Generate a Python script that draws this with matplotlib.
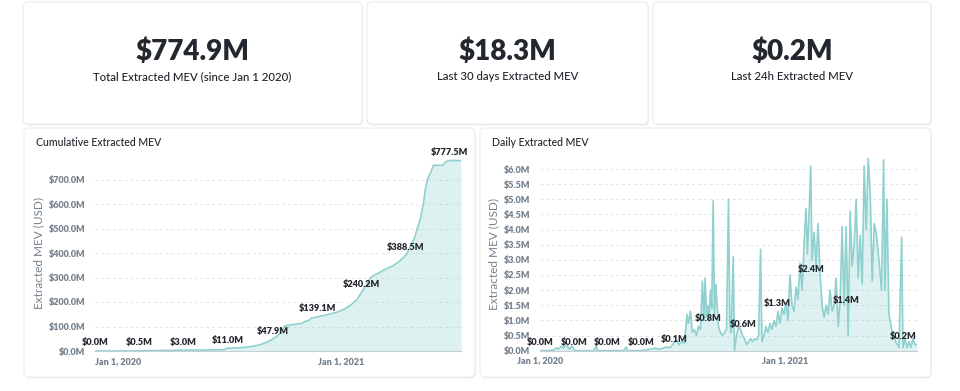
import pandas as pd
import matplotlib
matplotlib.use("Agg")
from matplotlib import pyplot as plt
from matplotlib.patches import FancyBboxPatch

plt.rcParams['font.family'] = ['Lato', 'DejaVu Sans']

# summary cards
card_values = ["$774.9M", "$18.3M", "$0.2M"]
card_labels = ["Total Extracted MEV (since Jan 1 2020)",
               "Last 30 days Extracted MEV",
               "Last 24h Extracted MEV"]

start = pd.Timestamp("2020-01-01")

# cumulative extracted MEV (days since Jan 1 2020, $M)
cum_days = [0, 20, 40, 66, 70, 100, 131, 160, 193, 195, 215, 232, 245, 255,
            264, 272, 278, 282, 290, 300, 308, 312, 318, 322, 331, 345, 360,
            372, 382, 390, 397, 403, 410, 415, 430, 445, 455, 462, 466, 470,
            475, 480, 485, 489, 492, 495, 500, 504, 518, 522, 528, 545]
cum_vals = [0.0, 0.0, 0.1, 0.5, 1.0, 2.0, 3.0, 4.0, 5.0, 11.0, 13.0, 18.0,
            25.0, 35.0, 47.9, 62.0, 80.0, 102.0, 106.0, 110.0, 113.0, 120.0,
            124.0, 134.0, 139.1, 148.0, 158.0, 172.0, 190.0, 210.0, 240.2,
            265.0, 298.0, 308.0, 330.0, 350.0, 370.0, 388.5, 405.0, 430.0,
            455.0, 500.0, 545.0, 600.0, 660.0, 700.0, 730.0, 758.0, 758.0,
            772.0, 777.5, 777.5]
cum_label_days = [0, 66, 131, 198, 264, 331, 397, 462, 528]
cum_label_vals = [0.0, 0.5, 3.0, 11.0, 47.9, 139.1, 240.2, 388.5, 777.5]

# daily extracted MEV (days since Jan 1 2020, $M)
daily_days = [0, 10, 20, 25, 28, 32, 35, 40, 44, 48, 52, 60, 80, 84, 86, 110,
              125, 129, 131, 150, 165, 172, 180, 188, 195, 200, 204, 208, 212,
              216, 220, 222, 225, 228, 231, 234, 237, 240, 243, 245, 247, 249,
              251, 253, 255, 257, 259, 261, 263, 265, 267, 270, 273, 276, 279,
              282, 284, 286, 289, 291, 294, 297, 300, 303, 306, 309, 312, 315,
              318, 321, 324, 327, 330, 332, 335, 338, 341, 344, 347, 350, 353,
              356, 359, 362, 365, 368, 371, 374, 377, 380, 383, 386, 389, 392,
              395, 398, 400, 403, 405, 407, 410, 413, 416, 419, 422, 425, 428,
              431, 434, 437, 440, 443, 446, 449, 452, 455, 458, 461, 464, 467,
              470, 473, 476, 479, 482, 485, 488, 491, 494, 497, 500, 503, 507,
              511, 514, 516, 519, 522, 527, 532, 537, 541, 543, 546, 549, 552,
              555, 558, 561, 564]
daily_vals = [0.0, 0.0, 0.02, 0.1, 0.05, 0.15, 0.1, 0.18, 0.05, 0.15, 0.0,
              0.0, 0.0, 0.15, 0.0, 0.0, 0.0, 0.12, 0.0, 0.0, 0.05, 0.08, 0.05,
              0.12, 0.1, 0.25, 0.35, 0.2, 0.3, 0.25, 1.2, 0.9, 1.3, 0.6, 0.7,
              0.5, 0.8, 0.7, 2.3, 1.0, 2.4, 1.1, 1.5, 1.0, 2.0, 1.4, 4.95, 1.2,
              2.2, 1.5, 0.8, 0.6, 0.5, 0.6, 0.7, 5.0, 0.9, 0.6, 3.1, 0.0, 0.5,
              0.8, 0.7, 0.5, 0.4, 0.2, 0.3, 0.4, 0.3, 0.4, 0.35, 0.5, 3.35, 0.3,
              0.5, 0.8, 0.6, 0.9, 0.7, 1.0, 0.8, 1.3, 0.9, 1.4, 1.2, 1.6, 1.0,
              2.5, 1.5, 1.3, 2.1, 1.7, 2.9, 2.0, 3.5, 4.7, 3.2, 4.8, 6.1, 3.0,
              3.9, 2.8, 4.2, 2.5, 1.5, 1.1, 1.5, 1.2, 2.0, 1.3, 1.5, 2.4, 0.8,
              1.6, 4.1, 1.5, 4.1, 0.5, 4.6, 2.8, 3.5, 5.0, 2.4, 3.8, 2.2, 6.1,
              4.0, 6.35, 5.2, 2.3, 4.2, 3.9, 3.0, 2.0, 6.3, 2.0, 5.0, 1.2, 0.6,
              0.3, 0.1, 3.75, 0.1, 0.4, 0.1, 0.3, 0.1, 0.4, 0.2, 0.2]
daily_label_days = [0, 51, 101, 151, 201, 252, 304, 355, 406, 458, 564]
daily_label_vals = [0.0, 0.0, 0.0, 0.0, 0.1, 0.8, 0.6, 1.3, 2.4, 1.4, 0.2]

LINE = '#8ed1cf'
TICK = '#75818e'
DARK = '#23272e'

W, H = 960, 391
fig = plt.figure(figsize=(9.6, 3.91), dpi=100)
fig.patch.set_facecolor('white')

bg = fig.add_axes([0, 0, 1, 1], zorder=-1)
bg.set_xlim(0, W)
bg.set_ylim(H, 0)
bg.axis('off')

def card(x0, y0, x1, y1):
    bg.add_patch(FancyBboxPatch((x0 + 1, y0 + 1.5), x1 - x0, y1 - y0,
                                boxstyle='round,pad=0,rounding_size=5',
                                fc='#eeeeee', ec='none'))
    bg.add_patch(FancyBboxPatch((x0, y0), x1 - x0, y1 - y0,
                                boxstyle='round,pad=0,rounding_size=5',
                                fc='white', ec='#ececec', lw=0.8))

top_cards = [(23, 2, 362), (367, 2, 648), (653, 2, 931)]
for (x0, y0, x1), val, lab in zip(top_cards, card_values, card_labels):
    card(x0, y0, x1, 124)
    cx = (x0 + x1) / 2
    bg.text(cx, 52, val, ha='center', va='center', fontsize=20,
            fontweight='heavy', color=DARK)
    bg.text(cx, 77, lab, ha='center', va='center', fontsize=8.2,
            fontweight='medium', color='#1f2329')

card(24, 128, 475, 377)
card(480, 128, 931, 377)
bg.text(36, 142, "Cumulative Extracted MEV", ha='left', va='center',
        fontsize=7.6, fontweight='medium', color=DARK)
bg.text(492, 142, "Daily Extracted MEV", ha='left', va='center',
        fontsize=7.6, fontweight='medium', color=DARK)


def style_axes(ax, ylabel, x_end):
    ax.set_facecolor('none')
    for s in ['top', 'right', 'left']:
        ax.spines[s].set_visible(False)
    ax.spines['bottom'].set_color('#c9ced4')
    ax.spines['bottom'].set_linewidth(0.8)
    ax.yaxis.grid(True, linestyle=(0, (3, 3)), color='#e4e4e4', lw=0.7)
    ax.set_axisbelow(True)
    ax.tick_params(axis='y', length=0, pad=7, labelsize=6.5, labelcolor=TICK)
    ax.tick_params(axis='x', length=0, pad=4, labelsize=6.5, labelcolor=TICK)
    for t in ax.get_yticklabels():
        t.set_fontweight('heavy')
    ax.set_ylabel(ylabel, fontsize=8.5, color=TICK, labelpad=3)
    ax.set_xlim(start, start + pd.Timedelta(days=x_end))
    ticks = [pd.Timestamp("2020-01-01"), pd.Timestamp("2021-01-01")]
    ax.set_xticks(ticks)
    ax.set_xticklabels(["Jan 1, 2020", "Jan 1, 2021"], fontweight='heavy')


def add_labels(ax, days, vals, last_right=False):
    for i, (d, v) in enumerate(zip(days, vals)):
        ha = 'center'
        if last_right and i == len(days) - 1:
            ha = 'right'
        ax.annotate(f"${v:.1f}M", (start + pd.Timedelta(days=d), v),
                    xytext=(0, 5.8), textcoords='offset points', ha=ha,
                    va='center', fontsize=6.6, fontweight='heavy', color=DARK,
                    annotation_clip=False)


# cumulative chart
ax1 = fig.add_axes([95 / W, 40 / H, 366 / W, 196 / H])
cum_dates = start + pd.to_timedelta(cum_days, unit='D')
ax1.fill_between(cum_dates, cum_vals, color=LINE, alpha=0.3, lw=0)
ax1.plot(cum_dates, cum_vals, color=LINE, lw=1.2)
ax1.set_ylim(0, 800)
ax1.set_yticks(range(0, 800, 100))
ax1.set_yticklabels([f"${v:.1f}M" for v in range(0, 800, 100)])
style_axes(ax1, "Extracted MEV (USD)", 545)
ax1.get_xticklabels()[0].set_ha('left')
add_labels(ax1, cum_label_days, cum_label_vals)

# daily chart
ax2 = fig.add_axes([540 / W, 40.3 / H, 377 / W, 193.8 / H])
daily_dates = start + pd.to_timedelta(daily_days, unit='D')
ax2.fill_between(daily_dates, daily_vals, color=LINE, alpha=0.3, lw=0)
ax2.plot(daily_dates, daily_vals, color=LINE, lw=1.2)
ax2.set_ylim(0, 6.4)
yt = [i * 0.5 for i in range(13)]
ax2.set_yticks(yt)
ax2.set_yticklabels([f"${v:.1f}M" for v in yt])
style_axes(ax2, "Extracted MEV (USD)", 564)
add_labels(ax2, daily_label_days, daily_label_vals, last_right=True)

plt.savefig("out.png", dpi=100, facecolor=fig.get_facecolor())
